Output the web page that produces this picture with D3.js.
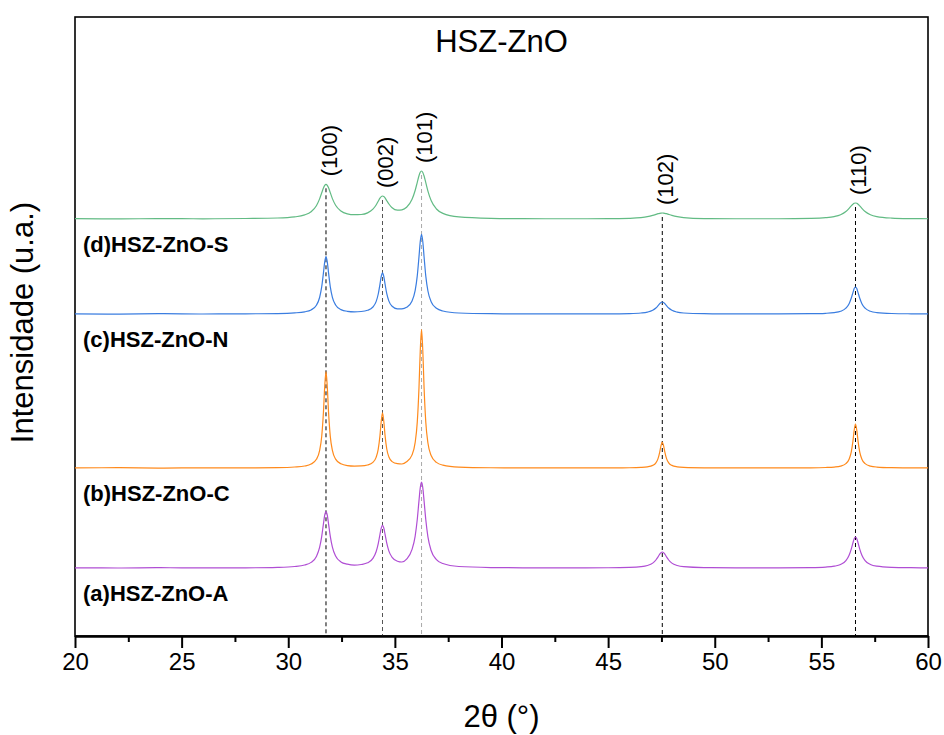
<!DOCTYPE html>
<html>
<head>
<meta charset="utf-8">
<script src="https://cdn.jsdelivr.net/npm/d3@7"></script>
<style>
  body { margin: 0; background: #fff; }
  svg { display: block; }
  text { font-family: "Liberation Sans", Arial, sans-serif; }
</style>
</head>
<body>
<svg id="chart" width="944" height="735"></svg>
<script>
// ---------------- DATA ----------------
const title = "HSZ-ZnO";
const xLabel = "2θ (°)";
const yLabel = "Intensidade (u.a.)";
const xTicks = [20, 25, 30, 35, 40, 45, 50, 55, 60];

// shared 2θ grid (degrees)
const twoTheta = [
  20, 22, 24, 26, 28, 29.5, 30.3,
  30.77, 31.07, 31.32, 31.47, 31.57, 31.65, 31.71, 31.77, 31.83, 31.89, 31.97, 32.07, 32.22, 32.47, 32.77,
  33.1,
  33.42, 33.72, 33.97, 34.12, 34.22, 34.30, 34.36, 34.42, 34.48, 34.54, 34.62, 34.72, 34.87, 35.12,
  35.33,
  35.55, 35.80, 35.95, 36.05, 36.13, 36.19, 36.25, 36.31, 36.37, 36.45, 36.55, 36.70, 36.95, 37.25,
  38, 39.5, 41, 43, 45, 46,
  46.54, 46.84, 47.09, 47.24, 47.34, 47.42, 47.48, 47.54, 47.60, 47.66, 47.74, 47.84, 47.99, 48.24, 48.54,
  49.5, 51, 53, 54.5, 55.2,
  55.6, 55.9, 56.15, 56.3, 56.4, 56.48, 56.54, 56.6, 56.66, 56.72, 56.8, 56.9, 57.05, 57.3, 57.6,
  58.3, 59.2, 60
];

// intensities (a.u.) above each pattern's own baseline
const intA = [
  0.2, 0.0, 0.3, 0.1, 0.2, 0.65, 1.5,
  3.0, 5.6, 11.6, 20.6, 31.7, 44.1, 52.8, 56.5, 52.8, 44.2, 31.9, 20.8, 11.9, 6.1, 3.8,
  2.8,
  3.5, 5.2, 9.6, 16.3, 24.4, 33.5, 39.9, 42.7, 40.0, 33.7, 24.8, 16.9, 10.7, 6.8,
  6.0,
  8.8, 18.3, 31.7, 48.5, 67.1, 80.2, 85.8, 80.1, 66.9, 48.2, 31.2, 17.5, 8.4, 4.5,
  1.5, 0.45, 0.2, 0.17, 0.27, 0.59,
  1.3, 2.5, 4.9, 8.0, 11.1, 13.8, 15.4, 16.0, 15.4, 13.8, 11.1, 8.0, 4.9, 2.5, 1.3,
  0.37, 0.18, 0.2, 0.43, 0.96,
  1.8, 3.5, 7.3, 12.7, 18.9, 25.2, 29.3, 31.0, 29.3, 25.2, 18.9, 12.7, 7.3, 3.5, 1.8,
  0.66, 0.28, 0.17
];
const intB = [
  0.1, 0.3, -0.1, 0.2, 0.13, 0.36, 1.0,
  2.0, 3.9, 8.7, 17.4, 31.8, 55.7, 81.4, 96.3, 81.4, 55.7, 31.9, 17.6, 8.9, 4.2, 2.4,
  1.9,
  2.05, 3.0, 5.7, 10.6, 18.8, 32.2, 46.6, 55.1, 46.7, 32.4, 19.0, 11.0, 6.4, 4.3,
  4.0,
  6.25, 12.9, 25.3, 45.9, 80.1, 117.0, 138.4, 117.0, 80.0, 45.8, 25.0, 12.5, 5.6, 2.9,
  0.95, 0.26, 0.12, 0.06, 0.12, 0.25,
  0.57, 1.15, 2.6, 5.2, 9.4, 15.9, 22.4, 26.0, 22.4, 15.9, 9.4, 5.2, 2.6, 1.15, 0.57,
  0.15, 0.05, 0.1, 0.22, 0.5,
  0.97, 1.94, 4.4, 8.8, 15.8, 26.8, 37.9, 44.0, 37.9, 26.8, 15.8, 8.8, 4.4, 1.94, 0.97,
  0.34, 0.15, 0.09
];
const intC = [
  0.2, -0.1, 0.3, 0.0, 0.2, 0.45, 1.1,
  2.2, 4.1, 8.8, 16.5, 27.3, 41.1, 52.1, 57.3, 52.1, 41.1, 27.4, 16.7, 9.05, 4.4, 2.7,
  2.2,
  2.5, 3.7, 7.0, 12.4, 20.0, 29.7, 37.5, 41.1, 37.5, 29.8, 20.3, 12.9, 7.7, 5.1,
  5.1,
  6.7, 12.8, 23.3, 38.1, 57.1, 72.4, 79.6, 72.3, 57.0, 37.9, 23.0, 12.3, 5.7, 3.0,
  1.0, 0.3, 0.15, 0.12, 0.17, 0.44,
  1.0, 1.86, 3.7, 6.0, 8.3, 10.3, 11.5, 12.0, 11.5, 10.3, 8.3, 6.0, 3.7, 1.86, 1.0,
  0.28, 0.1, 0.15, 0.33, 0.72,
  1.4, 2.7, 5.8, 10.3, 15.7, 21.4, 25.4, 27.0, 25.4, 21.4, 15.7, 10.3, 5.8, 2.7, 1.4,
  0.51, 0.22, 0.13
];
const intD = [
  0.3, 0.1, 0.4, 0.2, 0.5, 1.0, 2.1,
  4.1, 7.3, 13.3, 20.1, 26.2, 31.0, 33.6, 34.7, 33.7, 31.2, 26.4, 20.4, 13.8, 8.0, 5.2,
  4.3,
  4.5, 6.1, 9.8, 14.0, 17.8, 20.8, 22.4, 23.0, 22.6, 21.1, 18.3, 15.0, 11.2, 8.8,
  9.2,
  11.7, 19.4, 28.5, 36.7, 43.2, 46.7, 48.0, 46.6, 43.0, 36.3, 27.9, 18.4, 10.0, 5.6,
  2.1, 0.7, 0.35, 0.25, 0.3, 0.7,
  1.4, 2.3, 3.6, 4.6, 5.3, 5.7, 5.9, 6.0, 5.9, 5.7, 5.3, 4.6, 3.6, 2.3, 1.4,
  0.45, 0.25, 0.25, 0.65, 1.35,
  2.45, 4.3, 7.5, 10.7, 13.1, 14.8, 15.7, 16.0, 15.7, 14.8, 13.1, 10.7, 7.5, 4.3, 2.45,
  0.95, 0.4, 0.25
];

const sampleNames = ["(a)HSZ-ZnO-A", "(b)HSZ-ZnO-C", "(c)HSZ-ZnO-N", "(d)HSZ-ZnO-S"];
const sampleOffsets = [68, 168, 322, 417];   // vertical stacking offsets (a.u.)
const sampleColors = ["#b04ed4", "#ff8a1c", "#3a7de0", "#62bb84"];

const peakPositions = [31.77, 34.42, 36.25, 47.54, 56.6];
const peakLabels = ["(100)", "(002)", "(101)", "(102)", "(110)"];
const peakLineColors = ["#000", "#555", "#aaa", "#000", "#000"];

// ---------------- CHART ----------------
const svg = d3.select("#chart");
const W = 944, H = 735;
const m = { left: 75, right: 944 - 928, top: 17, bottom: 735 - 636 };

const x = d3.scaleLinear().domain([20, 60]).range([m.left, W - m.right]);
const y = d3.scaleLinear().domain([0, 619]).range([H - m.bottom, m.top]);

const series = [intA, intB, intC, intD];

// frame
svg.append("rect")
  .attr("x", x(20)).attr("y", y(619))
  .attr("width", x(60) - x(20)).attr("height", y(0) - y(619))
  .attr("fill", "none").attr("stroke", "#000").attr("stroke-width", 1.6);

// dashed reference lines
const topD = peakPositions.map(p => {
  const i = twoTheta.indexOf(p);
  return sampleOffsets[3] + intD[i];
});
svg.append("g").selectAll("line").data(peakPositions).join("line")
  .attr("x1", d => x(d)).attr("x2", d => x(d))
  .attr("y1", (d, i) => y(topD[i]) + 4)
  .attr("y2", y(0))
  .attr("stroke", (d, i) => peakLineColors[i])
  .attr("stroke-width", 1)
  .attr("stroke-dasharray", "4,3");

// patterns
const line = d3.line()
  .x((d, i) => x(twoTheta[i]))
  .curve(d3.curveMonotoneX);

series.forEach((s, k) => {
  svg.append("path")
    .datum(s)
    .attr("fill", "none")
    .attr("stroke", sampleColors[k])
    .attr("stroke-width", 1.2)
    .attr("d", line.y(d => y(d + sampleOffsets[k])));
});

// sample labels
svg.append("g").selectAll("text").data(sampleNames).join("text")
  .attr("x", 83)
  .attr("y", (d, i) => y(sampleOffsets[i]) + 33)
  .attr("font-size", 22)
  .attr("font-weight", "bold")
  .attr("fill", "#000")
  .text(d => d);

// peak labels
svg.append("g").selectAll("text").data(peakLabels).join("text")
  .attr("transform", (d, i) => `translate(${x(peakPositions[i]) + 3},${y(topD[i]) - 8}) rotate(-90)`)
  .attr("dy", "0.35em")
  .attr("text-anchor", "start")
  .attr("font-size", 22)
  .attr("fill", "#000")
  .text(d => d);

// x axis
const minorTicks = d3.range(22.5, 60, 5);
svg.append("g")
  .attr("transform", `translate(0,${y(0)})`)
  .call(d3.axisBottom(x).tickValues(minorTicks).tickSize(6).tickFormat(""))
  .call(g => g.select(".domain").remove())
  .call(g => g.selectAll(".tick line").attr("stroke-width", 2));

const xAxis = svg.append("g")
  .attr("transform", `translate(0,${y(0)})`)
  .call(d3.axisBottom(x).tickValues(xTicks).tickSize(12).tickSizeOuter(0).tickFormat(d3.format("d")));
xAxis.select(".domain").attr("stroke-width", 2.6);
xAxis.selectAll(".tick line").attr("stroke-width", 2);
xAxis.selectAll(".tick text")
  .attr("y", 17)
  .attr("font-size", 24)
  .attr("font-family", "'Liberation Sans', Arial, sans-serif")
  .attr("fill", "#000");

// titles
svg.append("text")
  .attr("x", (x(20) + x(60)) / 2).attr("y", 52)
  .attr("text-anchor", "middle")
  .attr("font-size", 31)
  .text(title);

svg.append("text")
  .attr("x", (x(20) + x(60)) / 2).attr("y", 727)
  .attr("text-anchor", "middle")
  .attr("font-size", 31)
  .text(xLabel);

svg.append("text")
  .attr("transform", `translate(33,${(y(0) + y(619)) / 2 - 4}) rotate(-90)`)
  .attr("text-anchor", "middle")
  .attr("font-size", 31)
  .text(yLabel);
</script>
</body>
</html>
